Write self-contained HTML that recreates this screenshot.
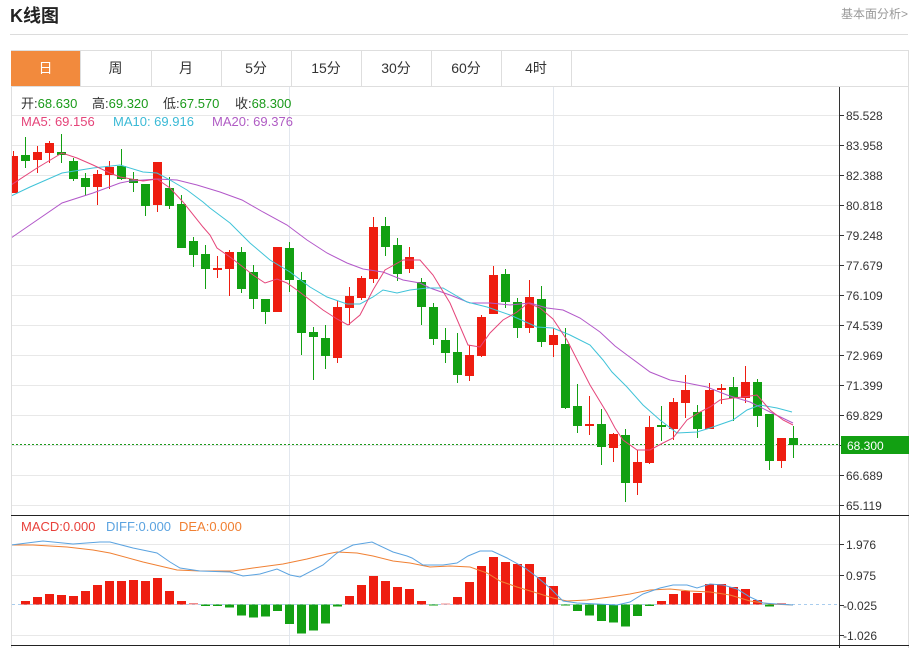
<!DOCTYPE html>
<html>
<head>
<meta charset="utf-8">
<style>
html,body{margin:0;padding:0;background:#fff;}
svg{display:block;}
text{font-family:"Liberation Sans","Noto Sans CJK SC",sans-serif;}
</style>
</head>
<body>
<svg width="916" height="648" viewBox="0 0 916 648" xmlns="http://www.w3.org/2000/svg">
<defs>
<clipPath id="cp"><rect x="12" y="87" width="827" height="558"/></clipPath>
</defs>
<rect x="0" y="0" width="916" height="648" fill="#fff"/>
<!-- header -->
<text x="10" y="22" font-size="18" font-weight="bold" fill="#222">K线图</text>
<text x="908" y="18" font-size="12" fill="#999" text-anchor="end">基本面分析&gt;</text>
<line x1="10" y1="34.5" x2="908" y2="34.5" stroke="#dcdcdc"/>
<!-- tabs -->
<rect x="11.5" y="50.5" width="897" height="36" fill="none" stroke="#dedede"/>
<rect x="11" y="51" width="69" height="35" fill="#f28a3d"/>
<g stroke="#dedede">
<line x1="80.5" y1="51" x2="80.5" y2="86"/>
<line x1="151.5" y1="51" x2="151.5" y2="86"/>
<line x1="221.5" y1="51" x2="221.5" y2="86"/>
<line x1="291.5" y1="51" x2="291.5" y2="86"/>
<line x1="361.5" y1="51" x2="361.5" y2="86"/>
<line x1="431.5" y1="51" x2="431.5" y2="86"/>
<line x1="501.5" y1="51" x2="501.5" y2="86"/>
<line x1="571.5" y1="51" x2="571.5" y2="86"/>
<line x1="11.5" y1="86" x2="11.5" y2="648"/>
<line x1="908.5" y1="86" x2="908.5" y2="648"/>
</g>
<g font-size="14" fill="#333" text-anchor="middle">
<text x="45.5" y="73" fill="#fff">日</text>
<text x="115.5" y="73">周</text>
<text x="186" y="73">月</text>
<text x="256" y="73">5分</text>
<text x="326" y="73">15分</text>
<text x="396" y="73">30分</text>
<text x="466" y="73">60分</text>
<text x="536" y="73">4时</text>
</g>
<!-- grid -->
<g stroke="#e8e8e8">
<line x1="12" y1="115.5" x2="839" y2="115.5"/>
<line x1="12" y1="145.5" x2="839" y2="145.5"/>
<line x1="12" y1="175.5" x2="839" y2="175.5"/>
<line x1="12" y1="205.5" x2="839" y2="205.5"/>
<line x1="12" y1="235.5" x2="839" y2="235.5"/>
<line x1="12" y1="265.5" x2="839" y2="265.5"/>
<line x1="12" y1="295.5" x2="839" y2="295.5"/>
<line x1="12" y1="325.5" x2="839" y2="325.5"/>
<line x1="12" y1="355.5" x2="839" y2="355.5"/>
<line x1="12" y1="385.5" x2="839" y2="385.5"/>
<line x1="12" y1="415.5" x2="839" y2="415.5"/>
<line x1="12" y1="445.5" x2="839" y2="445.5"/>
<line x1="12" y1="475.5" x2="839" y2="475.5"/>
<line x1="12" y1="505.5" x2="839" y2="505.5"/>
<line x1="12" y1="544.5" x2="839" y2="544.5"/>
<line x1="12" y1="575.5" x2="839" y2="575.5"/>
<line x1="12" y1="635.5" x2="839" y2="635.5"/>
</g>
<g stroke="#e2e7ee">
<line x1="289.5" y1="87" x2="289.5" y2="645"/>
<line x1="553.5" y1="87" x2="553.5" y2="645"/>
</g>
<!-- legend -->
<g font-size="13">
<text x="21" y="108" fill="#333">开:<tspan fill="#1a9a1a">68.630</tspan></text>
<text x="92" y="108" fill="#333">高:<tspan fill="#1a9a1a">69.320</tspan></text>
<text x="163" y="108" fill="#333">低:<tspan fill="#1a9a1a">67.570</tspan></text>
<text x="235" y="108" fill="#333">收:<tspan fill="#1a9a1a">68.300</tspan></text>
<text x="21" y="126" fill="#e5457a">MA5: 69.156</text>
<text x="113" y="126" fill="#3bbad6">MA10: 69.916</text>
<text x="212" y="126" fill="#b05cc4">MA20: 69.376</text>
<text x="21" y="531" fill="#e8403a">MACD:0.000</text>
<text x="106" y="531" fill="#5ba3e0">DIFF:0.000</text>
<text x="179" y="531" fill="#f08033">DEA:0.000</text>
</g>
<g clip-path="url(#cp)">
<!-- current price line -->
<line x1="12" y1="444.5" x2="839" y2="444.5" stroke="#1a9a1a" stroke-dasharray="2,2"/>
<!-- candles -->
<path stroke="#ee1d10" stroke-width="1" fill="none" d="M13.5 151V193M37.5 146V173M49.5 141V163M97.5 170V205M109.5 161V189M157.5 162V212M217.5 256V278M229.5 250V296M277.5 247V312M337.5 301V363M349.5 287V325M361.5 276V300M373.5 217V283M409.5 247V273M469.5 345V381M481.5 315V357M493.5 266V314M529.5 280V333M553.5 328V357M589.5 396V435M613.5 433V462M637.5 450V495M649.5 416V464M673.5 398V440M685.5 375V418M709.5 383V429M721.5 384V404M745.5 366V403M781.5 438V468"/>
<path fill="#ee1d10" d="M9 156h9v37h-9zM33 152h9v8h-9zM45 143h9v10h-9zM93 174h9v13h-9zM105 167h9v8h-9zM153 162h9v43h-9zM213 268h9v2h-9zM225 252h9v17h-9zM273 247h9v65h-9zM333 307h9v51h-9zM345 296h9v12h-9zM357 278h9v20h-9zM369 227h9v52h-9zM405 257h9v12h-9zM465 355h9v21h-9zM477 317h9v39h-9zM489 275h9v39h-9zM525 297h9v31h-9zM549 335h9v10h-9zM585 424h9v2h-9zM609 434h9v14h-9zM633 462h9v21h-9zM645 427h9v36h-9zM669 402h9v27h-9zM681 390h9v13h-9zM705 390h9v39h-9zM717 388h9v2h-9zM741 382h9v16h-9zM777 438h9v23h-9z"/>
<path stroke="#12a012" stroke-width="1" fill="none" d="M25.5 137V168M61.5 134V163M73.5 158V181M85.5 173V196M121.5 149V180M133.5 172V192M145.5 184V216M169.5 177V209M181.5 195V248M193.5 237V267M205.5 245V289M241.5 247V293M253.5 265V309M265.5 299V324M289.5 242V292M301.5 272V355M313.5 327V380M325.5 325V369M385.5 217V256M397.5 238V281M421.5 278V325M433.5 303V345M445.5 328V363M457.5 333V383M505.5 269V308M517.5 298V338M541.5 286V347M565.5 328V409M577.5 384V433M601.5 409V465M625.5 429V502M661.5 406V441M697.5 405V438M733.5 377V421M757.5 379V427M769.5 414V470M793.5 426V458"/>
<path fill="#12a012" d="M21 155h9v6h-9zM57 152h9v3h-9zM69 161h9v18h-9zM81 178h9v9h-9zM117 166h9v13h-9zM129 179h9v4h-9zM141 184h9v22h-9zM165 188h9v18h-9zM177 204h9v44h-9zM189 241h9v14h-9zM201 254h9v15h-9zM237 252h9v37h-9zM249 272h9v27h-9zM261 299h9v13h-9zM285 248h9v32h-9zM297 280h9v53h-9zM309 332h9v5h-9zM321 338h9v18h-9zM381 226h9v21h-9zM393 245h9v29h-9zM417 282h9v25h-9zM429 307h9v32h-9zM441 340h9v13h-9zM453 352h9v23h-9zM501 274h9v28h-9zM513 302h9v26h-9zM537 299h9v43h-9zM561 344h9v64h-9zM573 406h9v20h-9zM597 424h9v23h-9zM621 435h9v48h-9zM657 425h9v2h-9zM693 412h9v17h-9zM729 387h9v11h-9zM753 382h9v34h-9zM765 414h9v47h-9zM789 438h9v7h-9z"/>
<!-- MAs -->
<polyline fill="none" stroke="#b257c9" stroke-width="1" points="11,238 27,227 62,203 93,193 120,183 130,181 157,179 177,180 197,185 220,192 242,200 263,212 287,225 307,240 327,253 347,263 363,269 383,272 403,280 420,283 430,288 450,295 470,303 490,303 510,305 530,303 547,308 563,310 580,318 600,332 615,346 627,355 650,372 670,380 687,383 707,387 727,395 750,402 770,412 793,423"/>
<polyline fill="none" stroke="#3fc3d8" stroke-width="1" points="11,196 30,187 62,173 93,168 120,165 143,172 157,173 170,180 187,190 203,202 210,208 230,223 250,243 270,260 290,272 310,287 327,297 347,304 360,304 373,297 383,290 397,293 410,290 427,288 443,288 467,302 487,307 510,315 537,327 553,328 570,335 590,345 603,360 612,372 627,387 643,405 660,420 677,433 697,432 710,428 733,420 747,410 760,405 777,408 792,412"/>
<polyline fill="none" stroke="#e5457a" stroke-width="1" points="11,185 37,168 62,153 77,158 93,165 110,173 120,177 143,181 157,179 170,188 183,202 203,227 210,235 217,248 230,257 243,267 253,275 265,283 277,279 287,283 297,290 310,300 323,310 337,319 348,325 360,315 373,290 385,270 403,260 420,260 433,275 450,303 468,345 480,347 490,333 503,320 517,312 528,303 540,308 553,319 567,340 590,385 607,413 615,428 623,440 637,450 650,450 663,443 673,438 687,420 700,412 710,407 720,400 733,398 743,397 757,395 770,410 783,420 793,425"/>
<!-- MACD zero line -->
<line x1="12" y1="604.5" x2="839" y2="604.5" stroke="#a9cdee" stroke-dasharray="3,3"/>
<!-- MACD bars -->
<path fill="#ee1d10" d="M21 601h9v3.5h-9zM33 597h9v7.5h-9zM45 594h9v10.5h-9zM57 595h9v9.5h-9zM69 596h9v8.5h-9zM81 591h9v13.5h-9zM93 585h9v19.5h-9zM105 581h9v23.5h-9zM117 581h9v23.5h-9zM129 580h9v24.5h-9zM141 581h9v23.5h-9zM153 578h9v26.5h-9zM165 591h9v13.5h-9zM177 601h9v3.5h-9zM345 596h9v8.5h-9zM357 585h9v19.5h-9zM369 576h9v28.5h-9zM381 581h9v23.5h-9zM393 587h9v17.5h-9zM405 589h9v15.5h-9zM417 601h9v3.5h-9zM453 597h9v7.5h-9zM465 582h9v22.5h-9zM477 566h9v38.5h-9zM489 557h9v47.5h-9zM501 562h9v42.5h-9zM513 564h9v40.5h-9zM525 564h9v40.5h-9zM537 577h9v27.5h-9zM549 586h9v18.5h-9zM657 601h9v3.5h-9zM669 594h9v10.5h-9zM681 591h9v13.5h-9zM693 593h9v11.5h-9zM705 584h9v20.5h-9zM717 584h9v20.5h-9zM729 587h9v17.5h-9zM741 589h9v15.5h-9zM753 600h9v4.5h-9z"/>
<path fill="#f08a8a" d="M189 603h9v1.5h-9zM441 603.5h9v1h-9zM777 603h9v1.5h-9z"/>
<path fill="#12a012" d="M201 604.5h9v1.5h-9zM213 604.5h9v1.5h-9zM225 604.5h9v3h-9zM237 604.5h9v11h-9zM249 604.5h9v13h-9zM261 604.5h9v12h-9zM273 604.5h9v6.5h-9zM285 604.5h9v19.5h-9zM297 604.5h9v29h-9zM309 604.5h9v26h-9zM321 604.5h9v19h-9zM333 604.5h9v2h-9zM429 604.5h9v1h-9zM561 604.5h9v1h-9zM573 604.5h9v6.5h-9zM585 604.5h9v11h-9zM597 604.5h9v16.5h-9zM609 604.5h9v18h-9zM621 604.5h9v22h-9zM633 604.5h9v11.5h-9zM645 604.5h9v1.5h-9zM765 604.5h9v2h-9z"/>
<!-- DIFF / DEA -->
<polyline fill="none" stroke="#f08033" stroke-width="1" points="11,545 33,545 67,547 93,550 110,553 143,562 177,570 200,571 233,571 253,568 283,564 307,559 327,554 337,552 357,553 373,556 393,561 410,563 430,567 450,566 470,567 487,573 500,581 517,587 537,593 553,598 567,601 587,600 610,597 630,594 650,590 670,589 690,591 710,592 730,595 750,601 770,604 793,605"/>
<polyline fill="none" stroke="#5ba3e0" stroke-width="1" points="11,545 43,541 73,544 100,542 110,542 133,548 157,553 170,562 180,568 200,571 230,572 243,576 260,574 277,569 290,575 300,577 323,565 337,553 353,545 372,542 393,552 407,556 412,558 423,565 443,565 457,563 468,556 480,551 492,551 507,558 525,568 537,577 550,588 563,601 577,603 597,604 617,605 630,602 643,594 660,588 673,585 687,585 697,588 710,584 723,585 737,589 750,597 763,603 777,604 793,605"/>
</g>
<!-- axis -->
<line x1="839.5" y1="87" x2="839.5" y2="648" stroke="#333"/>
<g stroke="#333">
<line x1="839" y1="115.5" x2="844" y2="115.5"/>
<line x1="839" y1="145.5" x2="844" y2="145.5"/>
<line x1="839" y1="175.5" x2="844" y2="175.5"/>
<line x1="839" y1="205.5" x2="844" y2="205.5"/>
<line x1="839" y1="235.5" x2="844" y2="235.5"/>
<line x1="839" y1="265.5" x2="844" y2="265.5"/>
<line x1="839" y1="295.5" x2="844" y2="295.5"/>
<line x1="839" y1="325.5" x2="844" y2="325.5"/>
<line x1="839" y1="355.5" x2="844" y2="355.5"/>
<line x1="839" y1="385.5" x2="844" y2="385.5"/>
<line x1="839" y1="415.5" x2="844" y2="415.5"/>
<line x1="839" y1="445.5" x2="844" y2="445.5"/>
<line x1="839" y1="475.5" x2="844" y2="475.5"/>
<line x1="839" y1="505.5" x2="844" y2="505.5"/>
<line x1="839" y1="544.5" x2="844" y2="544.5"/>
<line x1="839" y1="575.5" x2="844" y2="575.5"/>
<line x1="839" y1="605.5" x2="844" y2="605.5"/>
<line x1="839" y1="635.5" x2="844" y2="635.5"/>
</g>
<line x1="11" y1="515.5" x2="909" y2="515.5" stroke="#222"/>
<line x1="11" y1="645.5" x2="909" y2="645.5" stroke="#222"/>
<g font-size="12" fill="#333">
<text x="846" y="120">85.528</text>
<text x="846" y="150">83.958</text>
<text x="846" y="180">82.388</text>
<text x="846" y="210">80.818</text>
<text x="846" y="240">79.248</text>
<text x="846" y="270">77.679</text>
<text x="846" y="300">76.109</text>
<text x="846" y="330">74.539</text>
<text x="846" y="360">72.969</text>
<text x="846" y="390">71.399</text>
<text x="846" y="420">69.829</text>
<text x="846" y="480">66.689</text>
<text x="846" y="510">65.119</text>
<text x="846" y="549">1.976</text>
<text x="846" y="580">0.975</text>
<text x="843" y="610">-0.025</text>
<text x="843" y="640">-1.026</text>
</g>
<rect x="841" y="436" width="68" height="18" fill="#12a012"/>
<text x="847" y="450" font-size="12" fill="#fff">68.300</text>
</svg>
</body>
</html>
